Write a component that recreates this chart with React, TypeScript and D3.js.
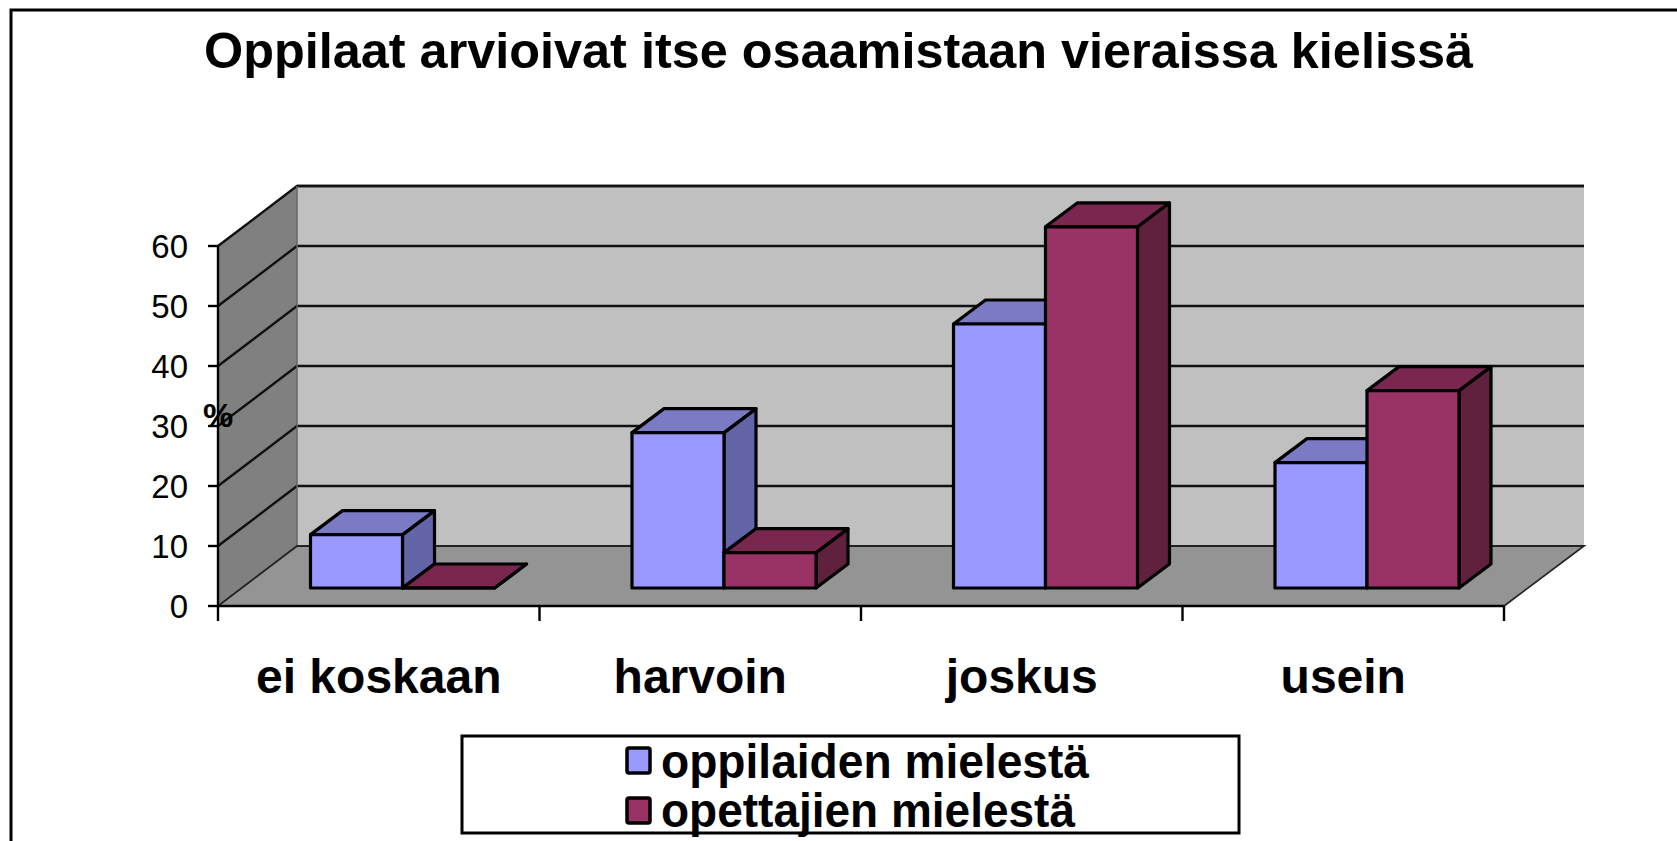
import React from "react";
import * as d3 from "d3";

const title = "Oppilaat arvioivat itse osaamistaan vieraissa kielissä";
const categories = ["ei koskaan", "harvoin", "joskus", "usein"];
const seriesNames = ["oppilaiden mielestä", "opettajien mielestä"];
const pupils = [8.9, 25.9, 44, 20.9];
const teachers = [0, 5.9, 60.2, 32.9];
const yTicks = [0, 10, 20, 30, 40, 50, 60];

const FONT = "'Liberation Sans', Arial, sans-serif";
const front = { x0: 218, x1: 1504, y0: 606, y60: 246 };
const depth = { dx: 79, dy: -60 };
const barOffset = 92.5;
const barW = 92;
const barDepth = { dx: 32, dy: -24 };
const barBase = 588;

const y = d3.scaleLinear().domain([0, 60]).range([front.y0, front.y60]);
const x = d3.scaleBand<string>().domain(categories).range([front.x0, front.x1]).padding(0);
const bh = (v: number) => y(0) - y(v);

const colors = [
  { front: "#9999ff", top: "#7a7ac5", side: "#6464a8" },
  { front: "#993366", top: "#79274f", side: "#60213f" },
];

const poly = (pts: [number, number][]) => (d3.line()(pts) as string) + "Z";

function Bar({ bx, v, c }: { bx: number; v: number; c: (typeof colors)[number] }) {
  const top = barBase - bh(v);
  const r = bx + barW;
  const { dx, dy } = barDepth;
  const common = { stroke: "#000", strokeWidth: 3.2, strokeLinejoin: "round" as const };
  return (
    <g>
      <path d={poly([[r, barBase], [r + dx, barBase + dy], [r + dx, top + dy], [r, top]])} fill={c.side} {...common} />
      <path d={poly([[bx, top], [bx + dx, top + dy], [r + dx, top + dy], [r, top]])} fill={c.top} {...common} />
      <path d={poly([[bx, barBase], [bx, top], [r, top], [r, barBase]])} fill={c.front} {...common} />
    </g>
  );
}

export default function App() {
  const backL = front.x0 + depth.dx;
  const backR = front.x1 + depth.dx + 1;
  const topBack = y(60) + depth.dy;
  const floorBack = y(0) + depth.dy;
  const grid = { stroke: "#111", strokeWidth: 2.4 };
  return (
    <svg width={1677} height={841} style={{ position: "absolute", left: 0, top: 0, display: "block", background: "#fff" }} fontFamily={FONT}>
      <path d={`M11,841V10H1677`} fill="none" stroke="#000" strokeWidth={3} />
      <text x={838.5} y={68} textAnchor="middle" fontSize={50} fontWeight="bold" textLength={1269} lengthAdjust="spacingAndGlyphs">{title}</text>

      <rect x={backL} y={topBack} width={backR - backL} height={floorBack - topBack} fill="#c0c0c0" />
      <path d={poly([[front.x0, y(0)], [front.x0, y(60)], [backL, topBack], [backL, floorBack]])} fill="#808080" />
      <path d={poly([[front.x0, y(0)], [backL, floorBack], [backR, floorBack], [front.x1, y(0)]])} fill="#949494" />

      {yTicks.slice(1).map((t) => (
        <path key={t} d={`M${front.x0},${y(t)}L${backL},${y(t) + depth.dy}H${backR}`} fill="none" {...grid} />
      ))}
      <path d={`M${backL},${topBack}H${backR}`} {...grid} />
      <path d={`M${backL},${topBack}V${floorBack}`} stroke="#666" strokeWidth={1.5} />
      <path d={`M${front.x0},${y(0)}L${backL},${floorBack}H${backR}L${front.x1},${y(0)}`} fill="none" stroke="#222" strokeWidth={1.8} />

      <path d={`M${front.x0},${y(60)}V${y(0)}H${front.x1}`} fill="none" stroke="#000" strokeWidth={2.4} />
      {yTicks.map((t) => (
        <g key={t}>
          <path d={`M${front.x0 - 10},${y(t)}H${front.x0}`} stroke="#000" strokeWidth={2.4} />
          <text x={188} y={y(t) + 12} textAnchor="end" fontSize={33}>{t}</text>
        </g>
      ))}
      {[...categories.map((c) => x(c) as number), front.x1].map((tx) => (
        <path key={tx} d={`M${tx},${y(0)}V${y(0) + 15}`} stroke="#000" strokeWidth={2.4} />
      ))}
      <text x={218} y={427} textAnchor="middle" fontSize={34} fontWeight="bold">%</text>

      {categories.map((c, i) => {
        const bx = (x(c) as number) + barOffset;
        return (
          <g key={c}>
            <Bar bx={bx} v={pupils[i]} c={colors[0]} />
            <Bar bx={bx + barW} v={teachers[i]} c={colors[1]} />
            <text x={(x(c) as number) + x.bandwidth() / 2} y={693} textAnchor="middle" fontSize={48} fontWeight="bold">{c}</text>
          </g>
        );
      })}

      <rect x={462} y={736} width={777} height={97} fill="#fff" stroke="#000" strokeWidth={3} />
      {seriesNames.map((s, i) => (
        <g key={s}>
          <rect x={627} y={748 + i * 50} width={23} height={25} rx={2} fill={colors[i].front} stroke="#000" strokeWidth={3.5} />
          <text x={661} y={778 + i * 49} fontSize={48} fontWeight="bold" textLength={i === 0 ? 428 : 414} lengthAdjust="spacingAndGlyphs">{s}</text>
        </g>
      ))}
    </svg>
  );
}
